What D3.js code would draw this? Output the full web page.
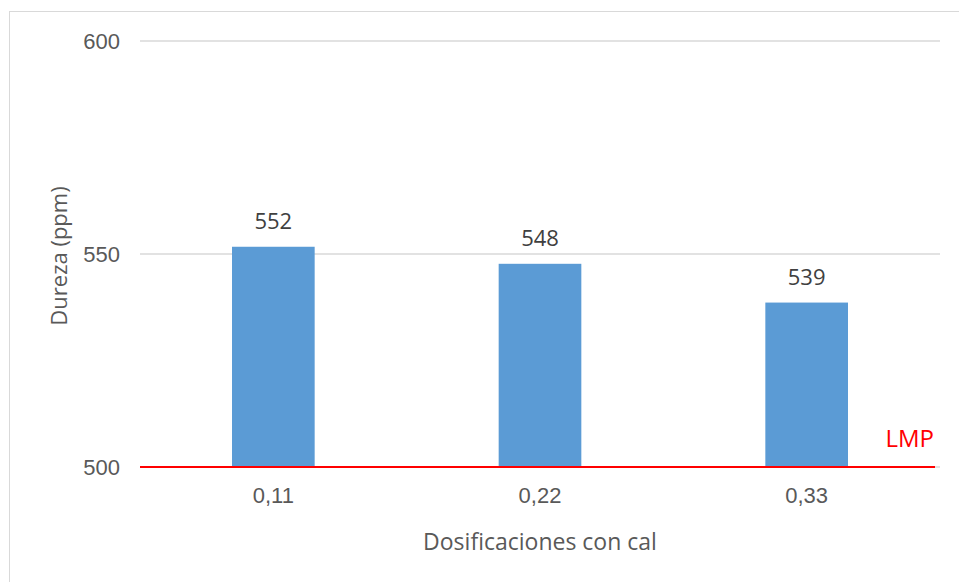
<!DOCTYPE html>
<html>
<head>
<meta charset="utf-8">
<script src="https://cdn.jsdelivr.net/npm/d3@7"></script>
<style>
  body { margin: 0; background: #fff; }
  svg { display: block; font-family: "Open Sans", sans-serif; }
  .tick text { fill: #595959; }
</style>
</head>
<body>
<svg id="chart" width="959" height="582"></svg>
<script>
"use strict";

const categories = ["0,11", "0,22", "0,33"];
const values = [551.7, 547.7, 538.6];
const yTicks = [500, 550, 600];
const limitValue = 500;
const limitLabel = "LMP";
const xTitle = "Dosificaciones con cal";
const yTitle = "Dureza (ppm)";

const margins = {top: 41, right: 19, bottom: 115, left: 140};
const svg = d3.select("#chart");
const width = 959 - margins.left - margins.right;
const height = 582 - margins.top - margins.bottom;

// chart frame
svg.append("rect")
   .attr("x", 9.5).attr("y", 11.5)
   .attr("width", 980).attr("height", 600)
   .attr("fill", "none")
   .attr("stroke", "#d9d9d9")
   .attr("stroke-width", 1);

const g = svg.append("g")
             .attr("transform", `translate(${margins.left}, ${margins.top})`);

const xScale = d3.scaleBand()
                 .domain(categories)
                 .range([0, width])
                 .paddingInner(0.69)
                 .paddingOuter(0.345);

const yScale = d3.scaleLinear()
                 .domain([500, 600])
                 .range([height, 0]);

// grid
g.append("g")
 .selectAll("line")
 .data(yTicks)
 .join("line")
 .attr("x1", 0)
 .attr("x2", width)
 .attr("y1", d => yScale(d))
 .attr("y2", d => yScale(d))
 .attr("stroke", "#d9d9d9")
 .attr("stroke-width", 1.3);

// y axis
const yAxis = g.append("g")
               .call(d3.axisLeft(yScale).tickValues(yTicks).tickSize(0).tickPadding(20));
yAxis.select(".domain").remove();
yAxis.selectAll("text").attr("font-size", 22).attr("dy", "0.35em");

// x axis
const xAxis = g.append("g")
               .attr("transform", `translate(0, ${height})`)
               .call(d3.axisBottom(xScale).tickSize(0).tickPadding(20));
xAxis.select(".domain").remove();
xAxis.selectAll("text").attr("font-size", 22);

// bars
g.append("g")
 .selectAll("rect")
 .data(values)
 .join("rect")
 .attr("x", (d, i) => xScale(categories[i]))
 .attr("y", d => yScale(d))
 .attr("width", xScale.bandwidth())
 .attr("height", d => height - yScale(d))
 .attr("fill", "#5b9bd5");

// data labels
g.append("g")
 .selectAll("text")
 .data(values)
 .join("text")
 .attr("x", (d, i) => xScale(categories[i]) + xScale.bandwidth() / 2)
 .attr("y", d => yScale(d) - 18)
 .attr("text-anchor", "middle")
 .attr("font-size", 22)
 .attr("fill", "#404040")
 .text(d => d3.format(".0f")(d));

// limit line
g.append("line")
 .attr("x1", 0)
 .attr("x2", width - 5)
 .attr("y1", yScale(limitValue))
 .attr("y2", yScale(limitValue))
 .attr("stroke", "#ff0000")
 .attr("stroke-width", 2.2);

g.append("text")
 .attr("x", width - 6)
 .attr("y", yScale(limitValue) - 20)
 .attr("text-anchor", "end")
 .attr("font-size", 24)
 .attr("fill", "#ff0000")
 .text(limitLabel);

// axis titles
svg.append("text")
   .attr("x", margins.left + width / 2)
   .attr("y", 550)
   .attr("text-anchor", "middle")
   .attr("font-size", 23)
   .attr("fill", "#595959")
   .text(xTitle);

svg.append("text")
   .attr("transform", "translate(67, 256) rotate(-90)")
   .attr("text-anchor", "middle")
   .attr("font-size", 22)
   .attr("fill", "#595959")
   .text(yTitle);
</script>
</body>
</html>
